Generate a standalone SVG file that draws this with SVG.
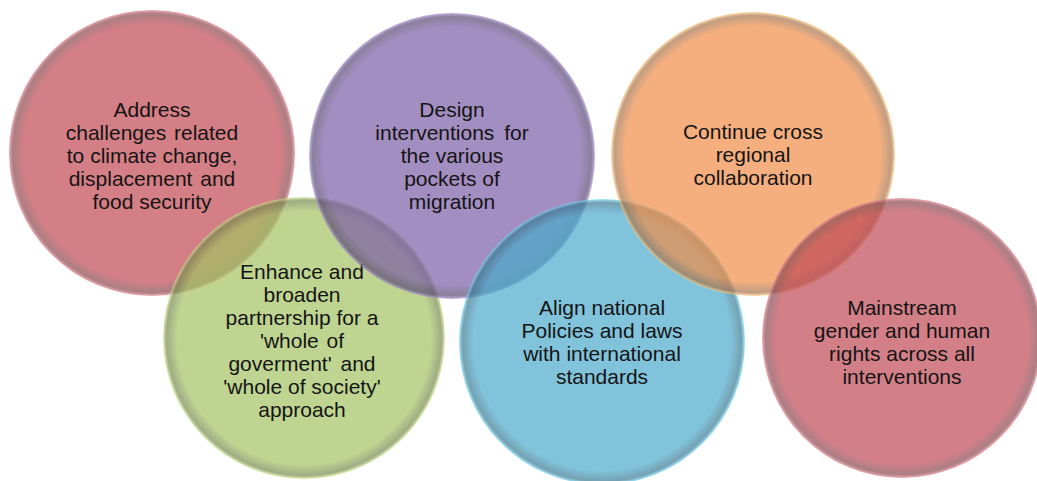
<svg xmlns="http://www.w3.org/2000/svg" width="1037" height="481" viewBox="0 0 1037 481">
<defs>
  <radialGradient id="gRed" cx="50%" cy="50%" r="50%">
    <stop offset="0" stop-color="#C24A52"/>
    <stop offset="0.9" stop-color="#C24A52"/>
    <stop offset="0.975" stop-color="#884850"/>
    <stop offset="1" stop-color="#E88890"/>
  </radialGradient>
  <radialGradient id="gGreen" cx="50%" cy="50%" r="50%">
    <stop offset="0" stop-color="#A5C263"/>
    <stop offset="0.9" stop-color="#A5C263"/>
    <stop offset="0.975" stop-color="#788A50"/>
    <stop offset="1" stop-color="#D0E890"/>
  </radialGradient>
  <radialGradient id="gPurple" cx="50%" cy="50%" r="50%">
    <stop offset="0" stop-color="#7D5FA8"/>
    <stop offset="0.9" stop-color="#7D5FA8"/>
    <stop offset="0.975" stop-color="#5A4A74"/>
    <stop offset="1" stop-color="#A890D8"/>
  </radialGradient>
  <radialGradient id="gBlue" cx="50%" cy="50%" r="50%">
    <stop offset="0" stop-color="#4CABCD"/>
    <stop offset="0.9" stop-color="#4CABCD"/>
    <stop offset="0.975" stop-color="#3A7A92"/>
    <stop offset="1" stop-color="#7ADCFA"/>
  </radialGradient>
  <radialGradient id="gOrange" cx="50%" cy="50%" r="50%">
    <stop offset="0" stop-color="#F18E48"/>
    <stop offset="0.9" stop-color="#F18E48"/>
    <stop offset="0.975" stop-color="#A8744E"/>
    <stop offset="1" stop-color="#FFCC80"/>
  </radialGradient>
  <radialGradient id="gRed2" cx="50%" cy="50%" r="50%">
    <stop offset="0" stop-color="#C14A55"/>
    <stop offset="0.9" stop-color="#C14A55"/>
    <stop offset="0.975" stop-color="#884852"/>
    <stop offset="1" stop-color="#E88890"/>
  </radialGradient>
  <filter id="soft" x="-5%" y="-5%" width="110%" height="110%">
    <feGaussianBlur stdDeviation="0.7"/>
  </filter>
</defs>
<style>
  .c { opacity: 0.7; filter: url(#soft); }
  .t { font-family: "Liberation Sans", Arial, sans-serif; font-size: 21px; fill: #141414; text-anchor: middle; }
</style>
<rect width="1037" height="481" fill="#FFFFFF"/>

<g id="node-climate">
  <circle class="c" cx="152" cy="153" r="143" fill="url(#gRed)"/>
  <text class="t" x="152" y="117">Address</text>
  <text class="t" x="152" y="140" word-spacing="2">challenges related</text>
  <text class="t" x="152" y="163">to climate change,</text>
  <text class="t" x="152" y="186" word-spacing="2">displacement and</text>
  <text class="t" x="152" y="209">food security</text>
</g>

<g id="node-partnership">
  <circle class="c" cx="304" cy="338" r="141" fill="url(#gGreen)"/>
  <text class="t" x="302" y="279">Enhance and</text>
  <text class="t" x="302" y="302">broaden</text>
  <text class="t" x="302" y="325">partnership for a</text>
  <text class="t" x="302" y="348" word-spacing="2">'whole of</text>
  <text class="t" x="302" y="371" word-spacing="3">goverment'  and</text>
  <text class="t" x="302" y="394">'whole of society'</text>
  <text class="t" x="302" y="417">approach</text>
</g>

<g id="node-design">
  <circle class="c" cx="452" cy="156" r="143" fill="url(#gPurple)"/>
  <text class="t" x="452" y="117">Design</text>
  <text class="t" x="452" y="140" word-spacing="4">interventions for</text>
  <text class="t" x="452" y="163">the various</text>
  <text class="t" x="452" y="186">pockets of</text>
  <text class="t" x="452" y="209">migration</text>
</g>

<g id="node-align">
  <circle class="c" cx="602" cy="342" r="143" fill="url(#gBlue)"/>
  <text class="t" x="602" y="315">Align national</text>
  <text class="t" x="602" y="338">Policies and laws</text>
  <text class="t" x="602" y="361">with international</text>
  <text class="t" x="602" y="384">standards</text>
</g>

<g id="node-regional">
  <circle class="c" cx="753" cy="154" r="142" fill="url(#gOrange)"/>
  <text class="t" x="753" y="139">Continue cross</text>
  <text class="t" x="753" y="162">regional</text>
  <text class="t" x="753" y="185">collaboration</text>
</g>

<g id="node-gender">
  <circle class="c" cx="902" cy="338" r="140" fill="url(#gRed2)"/>
  <text class="t" x="902" y="315">Mainstream</text>
  <text class="t" x="902" y="338">gender and human</text>
  <text class="t" x="902" y="361">rights across all</text>
  <text class="t" x="902" y="384">interventions</text>
</g>
</svg>
